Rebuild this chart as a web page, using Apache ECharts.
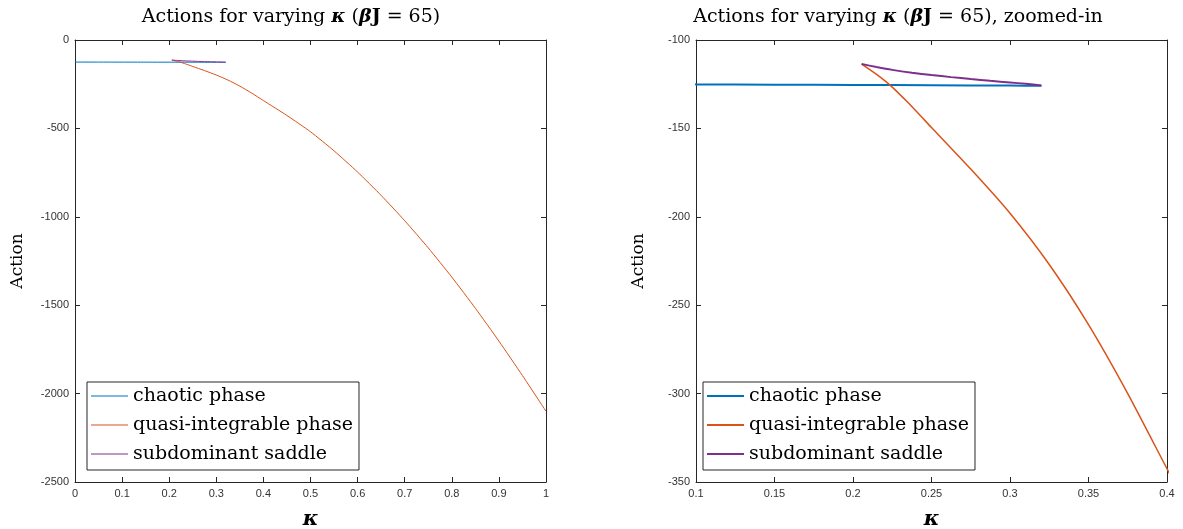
<!DOCTYPE html>
<html lang="en">
<head>
    <meta charset="UTF-8">
    <title>Actions for varying kappa</title>
    <script src="https://cdn.jsdelivr.net/npm/echarts@6/dist/echarts.min.js"></script>
</head>
<body style="margin:0;background:#fff;">
<div id="main" style="width:1183px;height:529px;"></div>
<script type="text/javascript">
    // chaotic phase
    var kappaChaotic = [0, 0.05, 0.1, 0.15, 0.2, 0.25, 0.3, 0.32];
    var actionChaotic = [-124.8, -124.9, -125.1, -125.3, -125.4, -125.6, -125.8, -125.9];
    // quasi-integrable phase
    var kappaQuasi = [0.2055, 0.215, 0.2236, 0.235, 0.25, 0.275, 0.3, 0.325, 0.35, 0.375, 0.4,
        0.45, 0.5, 0.55, 0.6, 0.65, 0.7, 0.75, 0.8, 0.85, 0.9, 0.95, 1.0];
    var actionQuasi = [-113.6, -119.4, -125.5, -135.4, -149.5, -173, -198, -227, -261, -300, -342.5,
        -427, -519, -627, -747, -879, -1022, -1176, -1341, -1517, -1703, -1898, -2100];
    // subdominant saddle
    var kappaSaddle = [0.2055, 0.215, 0.225, 0.2375, 0.25, 0.2625, 0.275, 0.2875, 0.3, 0.31, 0.32];
    var actionSaddle = [-113.6, -115.3, -116.9, -118.5, -119.8, -121.0, -122.1, -123.1, -124.0, -124.8, -125.7];

    var seriesNames = ['chaotic phase', 'quasi-integrable phase', 'subdominant saddle'];
    var colors = ['#0072BD', '#D95319', '#7E2F8E'];

    function pairs(xs, ys) {
        var out = [];
        for (var i = 0; i < xs.length; i++) {
            out.push([xs[i], ys[i]]);
        }
        return out;
    }

    var axisColor = '#262626';
    var serif = 'DejaVu Serif';

    var titleRich = {
        n: {fontFamily: serif, fontSize: 19, color: '#000'},
        bi: {fontFamily: serif, fontSize: 19, fontWeight: 'bold', fontStyle: 'italic', color: '#000'},
        b: {fontFamily: serif, fontSize: 19, fontWeight: 'bold', color: '#000'}
    };

    function plain(v) {
        return String(Math.round(v * 1000) / 1000);
    }

    function xAxes(grid, min, max, interval) {
        return [{
            type: 'value', gridIndex: grid, min: min, max: max, interval: interval,
            position: 'bottom',
            name: 'κ', nameLocation: 'middle', nameGap: 27,
            nameTextStyle: {fontFamily: serif, fontSize: 21, fontWeight: 'bold', fontStyle: 'italic', color: '#000'},
            axisLine: {show: true, onZero: false, lineStyle: {color: axisColor, width: 1}},
            axisTick: {show: true, inside: true, length: 5, lineStyle: {color: axisColor}},
            axisLabel: {color: '#333', fontFamily: 'Liberation Sans', fontSize: 11, margin: 6, formatter: plain},
            splitLine: {show: false}
        }, {
            type: 'value', gridIndex: grid, min: min, max: max, interval: interval,
            position: 'top',
            axisLine: {show: true, onZero: false, lineStyle: {color: axisColor, width: 1}},
            axisTick: {show: true, inside: true, length: 5, lineStyle: {color: axisColor}},
            axisLabel: {show: false},
            splitLine: {show: false}
        }];
    }

    function yAxes(grid, min, max, interval) {
        return [{
            type: 'value', gridIndex: grid, min: min, max: max, interval: interval,
            position: 'left',
            name: 'Action', nameLocation: 'middle', nameGap: 49, nameRotate: 90,
            nameTextStyle: {fontFamily: serif, fontSize: 17, color: '#000'},
            axisLine: {show: true, onZero: false, lineStyle: {color: axisColor, width: 1}},
            axisTick: {show: true, inside: true, length: 5, lineStyle: {color: axisColor}},
            axisLabel: {color: '#333', fontFamily: 'Liberation Sans', fontSize: 11, margin: 6, formatter: plain},
            splitLine: {show: false}
        }, {
            type: 'value', gridIndex: grid, min: min, max: max, interval: interval,
            position: 'right',
            axisLine: {show: true, onZero: false, lineStyle: {color: axisColor, width: 1}},
            axisTick: {show: true, inside: true, length: 5, lineStyle: {color: axisColor}},
            axisLabel: {show: false},
            splitLine: {show: false}
        }];
    }

    function lineSeries(idx, data, xi, yi, width) {
        return {
            name: seriesNames[idx],
            type: 'line',
            xAxisIndex: xi,
            yAxisIndex: yi,
            data: data,
            symbol: 'none',
            smooth: 0.2,
            clip: true,
            lineStyle: {color: colors[idx], width: width},
            itemStyle: {color: colors[idx]},
            animation: false
        };
    }

    function legendFor(left, height) {
        return {
            orient: 'vertical',
            left: left, top: 382,
            itemWidth: 37, itemHeight: height, itemGap: 9,
            padding: [4, 6, 6, 4],
            borderColor: axisColor, borderWidth: 1,
            backgroundColor: '#fff',
            selectedMode: false,
            textStyle: {fontFamily: serif, fontSize: 19, color: '#000', lineHeight: 20},
            data: seriesNames.map(function (n, i) {
                return {name: n, icon: 'rect', itemStyle: {color: colors[i]}};
            })
        };
    }

    var chart = echarts.init(document.getElementById('main'), null, {renderer: 'canvas'});

    var dataC = pairs(kappaChaotic, actionChaotic);
    var dataQ = pairs(kappaQuasi, actionQuasi);
    var dataS = pairs(kappaSaddle, actionSaddle);

    chart.setOption({
        animation: false,
        backgroundColor: '#fff',
        grid: [
            {left: 75, right: 637, top: 40, bottom: 47, containLabel: false, outerBoundsMode: 'none'},
            {left: 696, right: 16, top: 40, bottom: 47, containLabel: false, outerBoundsMode: 'none'}
        ],
        xAxis: xAxes(0, 0, 1, 0.1).concat(xAxes(1, 0.1, 0.4, 0.05)),
        yAxis: yAxes(0, -2500, 0, 500).concat(yAxes(1, -350, -100, 50)),
        legend: [legendFor(87, 1), legendFor(703, 2)],
        graphic: [{
            type: 'text', x: 291, y: 17,
            style: {
                text: '{n|Actions for varying }{bi|κ}{n| (}{bi|β}{b|J}{n| = 65)}',
                rich: titleRich, align: 'center', verticalAlign: 'middle'
            }
        }, {
            type: 'text', x: 898, y: 17,
            style: {
                text: '{n|Actions for varying }{bi|κ}{n| (}{bi|β}{b|J}{n| = 65), zoomed-in}',
                rich: titleRich, align: 'center', verticalAlign: 'middle'
            }
        }],
        series: [
            lineSeries(0, dataC, 0, 0, 1),
            lineSeries(1, dataQ, 0, 0, 1),
            lineSeries(2, dataS, 0, 0, 1),
            lineSeries(0, dataC, 2, 2, 2),
            lineSeries(1, dataQ, 2, 2, 1.5),
            lineSeries(2, dataS, 2, 2, 2)
        ]
    });
</script>
</body>
</html>
